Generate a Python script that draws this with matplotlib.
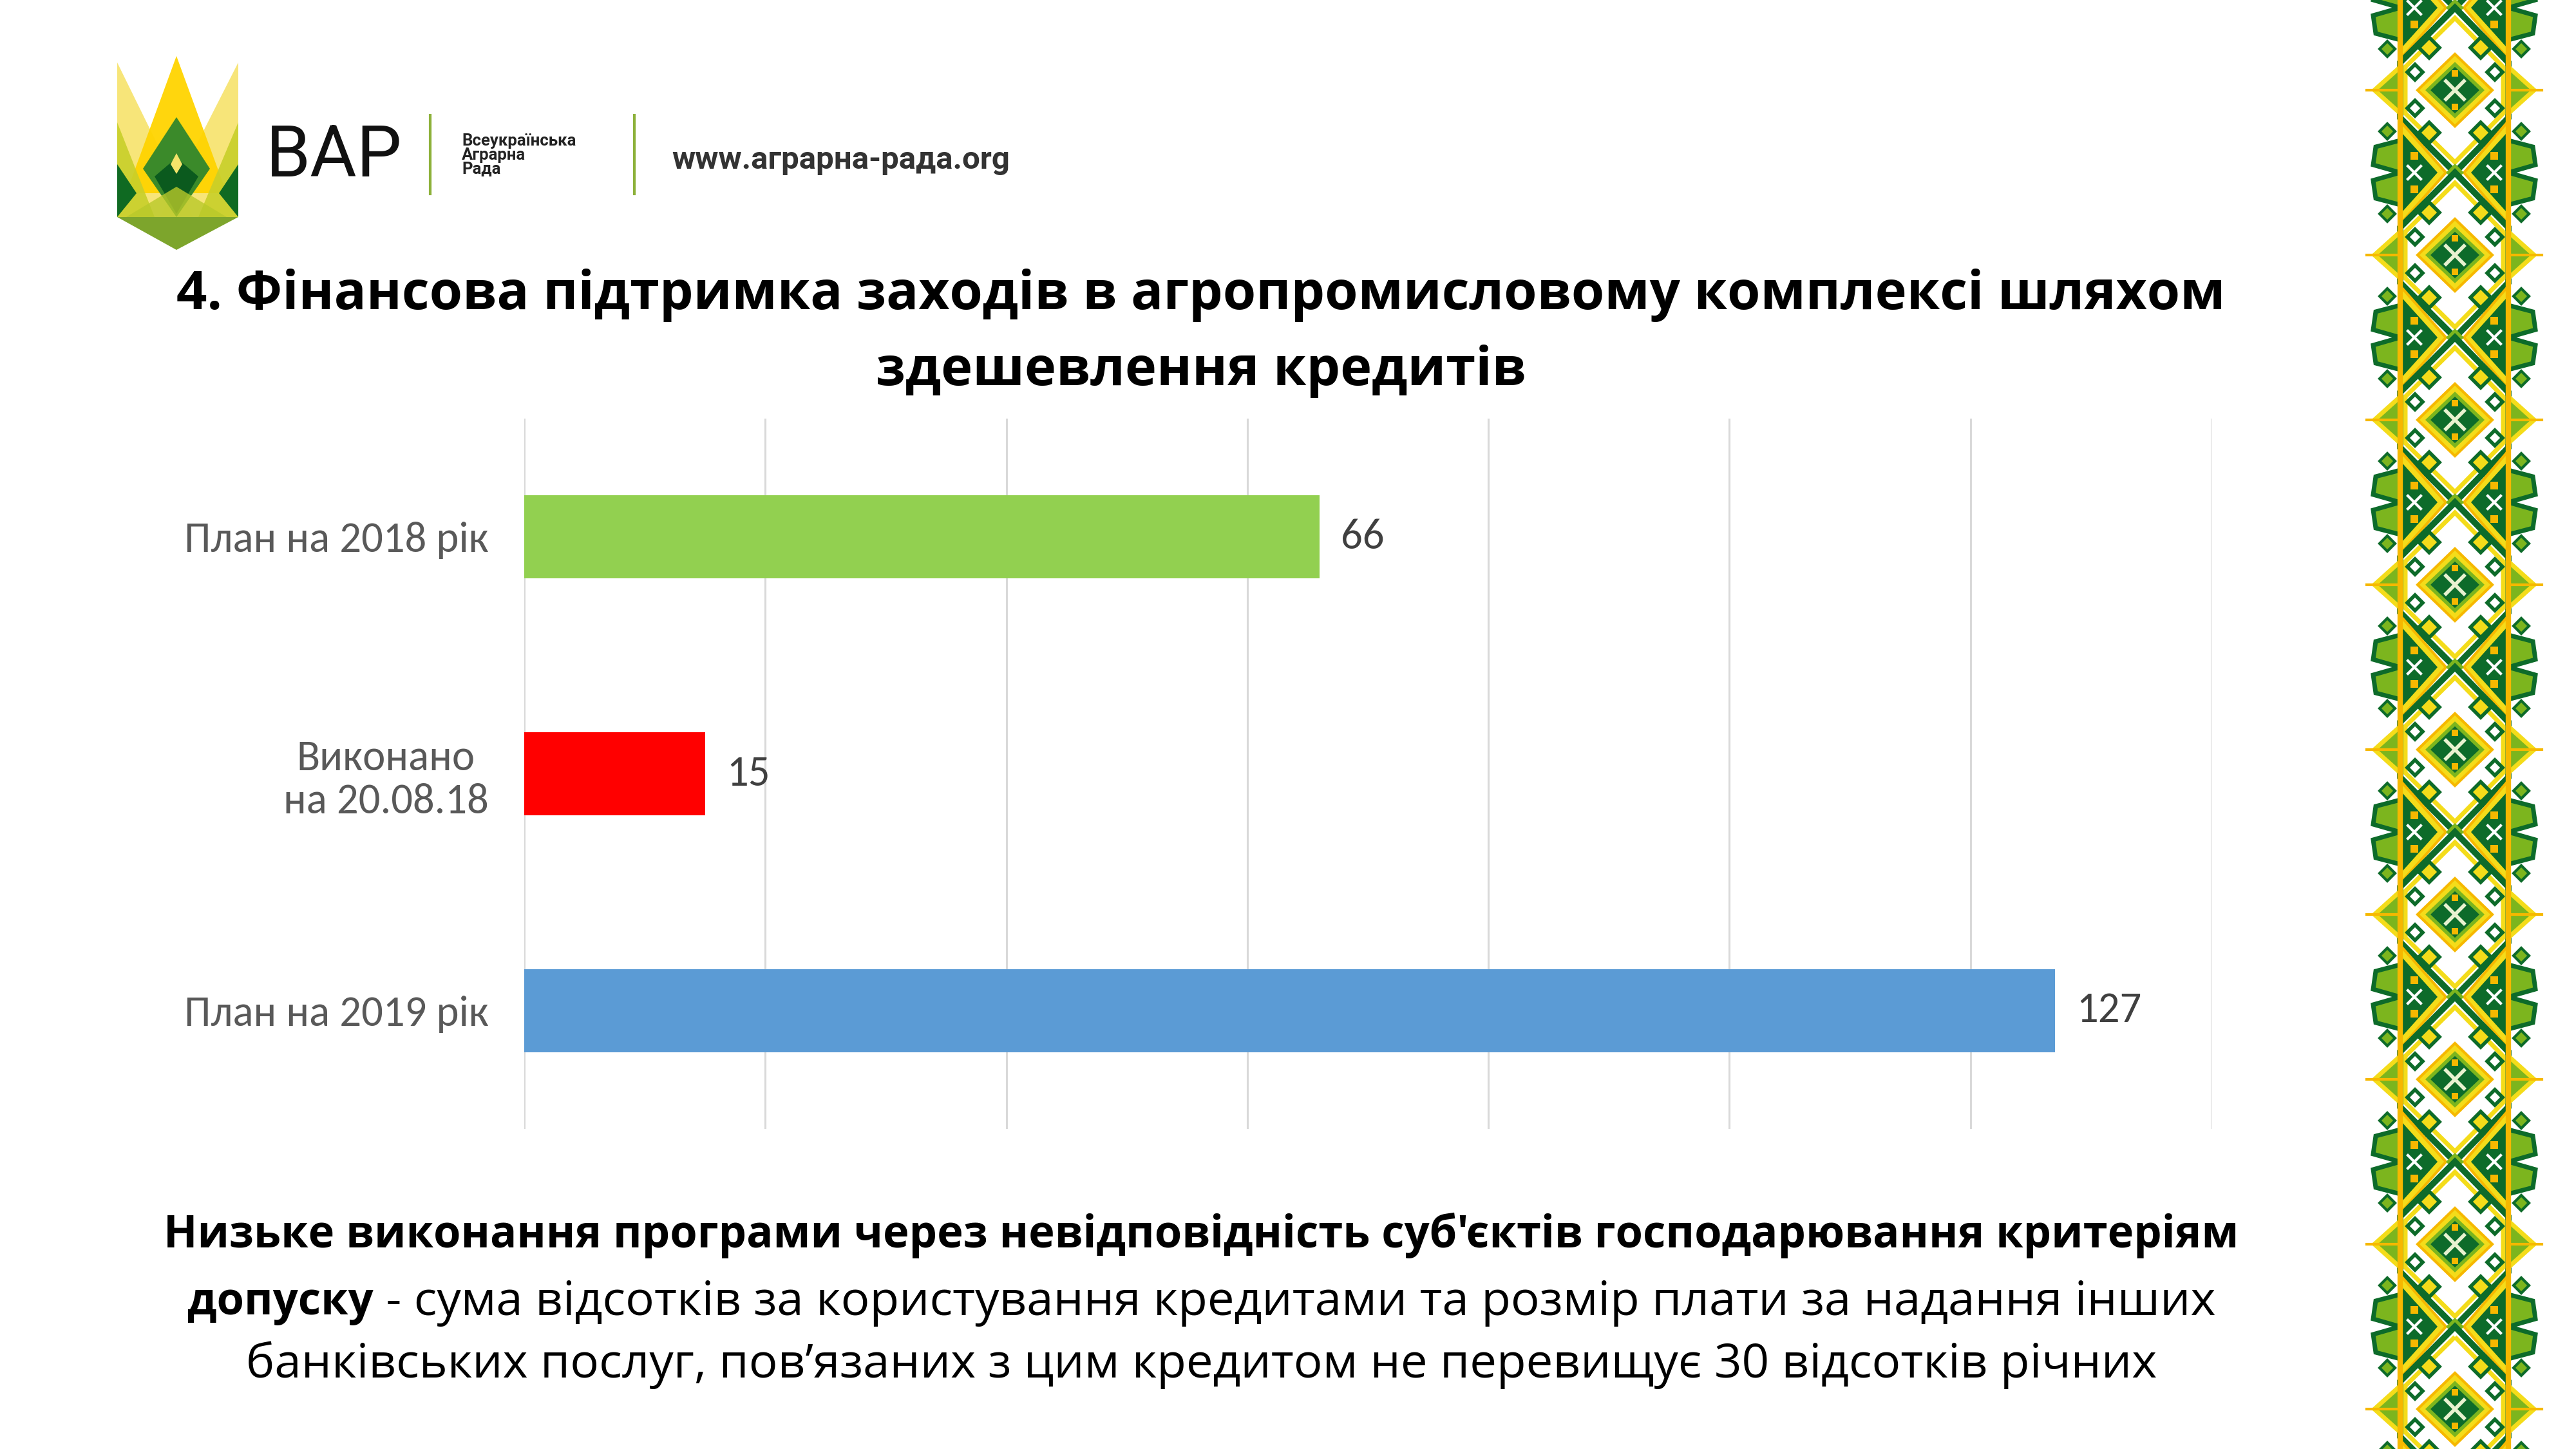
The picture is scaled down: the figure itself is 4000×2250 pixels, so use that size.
import numpy as np
import matplotlib
matplotlib.use("Agg")
import matplotlib.pyplot as plt
from matplotlib.patches import Polygon, Rectangle

# data
categories = ["План на 2018 рік", "Виконано\nна 20.08.18", "План на 2019 рік"]
values = [66, 15, 127]
bar_colors = ["#92d050", "#ff0000", "#5b9bd5"]
x_ticks = [0, 20, 40, 60, 80, 100, 120, 140]

title_lines = ["4. Фінансова підтримка заходів в агропромисловому комплексі шляхом",
               "здешевлення кредитів"]
note_line1 = "Низьке виконання програми через невідповідність суб'єктів господарювання критеріям"
note_line2_bold = "допуску"
note_line2_rest = " - сума відсотків за користування кредитами та розмір плати за надання інших"
note_line3 = "банківських послуг, пов’язаних з цим кредитом не перевищує 30 відсотків річних"
logo_name = "ВАР"
logo_small = "Всеукраїнська\nАграрна\nРада"
logo_url = "www.аграрна-рада.org"

W, H = 4000, 2250
FONT = "Open Sans"
LABEL_FONT = "Carlito"

fig = plt.figure(figsize=(40, 22.5), dpi=100)
fig.patch.set_facecolor("white")
r = fig.canvas.get_renderer()


def fx(x):
    return x / W


def fy(y):
    return 1 - y / H


def fit(t, width_px):
    # scale the font so the text spans width_px
    w = t.get_window_extent(r).width
    t.set_fontsize(t.get_fontsize() * width_px / w)
    return t.get_fontsize()


# chart
ax = fig.add_axes([fx(814), fy(1753), fx(3434) - fx(814), fy(650) - fy(1753)])
ypos = np.arange(len(categories))
ax.barh(ypos, values, height=0.35, color=bar_colors, zorder=3)
ax.set_xlim(0, 140)
ax.set_ylim(2.5, -0.5)
ax.set_xticks(x_ticks)
ax.set_xticklabels([])
ax.grid(axis="x", color="#d9d9d9", linewidth=2.2, zorder=0)
ax.set_yticks(ypos)
ax.set_yticklabels(categories, fontsize=48, color="#595959", family=LABEL_FONT,
                   multialignment="center", linespacing=1.2)
ax.tick_params(length=0, pad=40)
for s in ax.spines.values():
    s.set_visible(False)
for i, v in enumerate(values):
    ax.annotate(str(v), (v, i), xytext=(24, 0), textcoords="offset points",
                va="center", ha="left", fontsize=48, color="#404040", family=LABEL_FONT)

# title
t1 = fig.text(fx(1865), fy(459), title_lines[0], ha="center", va="center",
              fontsize=70, weight="bold", family=FONT)
size = fit(t1, 3184)
fig.text(fx(1865), fy(577), title_lines[1], ha="center", va="center",
         fontsize=size, weight="bold", family=FONT)

# bottom note
n1 = fig.text(fx(1865), fy(1918), note_line1, ha="center", va="center",
              fontsize=60, weight="bold", family=FONT)
fit(n1, 3220)
n3 = fig.text(fx(1866), fy(2120), note_line3, ha="center", va="center",
              fontsize=60, family=FONT)
nsize = fit(n3, 2967)
tb = fig.text(0, fy(2023), note_line2_bold, ha="left", va="center",
              fontsize=n1.get_fontsize(), weight="bold", family=FONT)
tr = fig.text(0, fy(2023), note_line2_rest, ha="left", va="center",
              fontsize=nsize, family=FONT)
wb = tb.get_window_extent(r).width
wr = tr.get_window_extent(r).width
x0 = 1866 - (wb + wr) / 2
tb.set_x(fx(x0))
tr.set_x(fx(x0 + wb))

# overlay for logo and ornament (pixel coordinates)
ov = fig.add_axes([0, 0, 1, 1], zorder=-1)
ov.set_xlim(0, W)
ov.set_ylim(H, 0)
ov.axis("off")

# trident logo
logo_polys = [
    ([(182, 97), (182, 337), (300, 337)], "#f7e36b", 0.9),
    ([(370, 97), (370, 337), (248, 337)], "#f7e36b", 0.9),
    ([(274, 87), (196, 300), (352, 300)], "#ffd400", 0.95),
    ([(182, 190), (182, 337), (240, 337)], "#c8cf2a", 0.9),
    ([(370, 190), (370, 337), (308, 337)], "#c8cf2a", 0.9),
    ([(182, 255), (182, 337), (212, 300)], "#0f6a22", 1.0),
    ([(370, 255), (370, 337), (340, 300)], "#0f6a22", 1.0),
    ([(274, 182), (222, 262), (274, 337), (326, 262)], "#3b8a2a", 1.0),
    ([(274, 245), (240, 274), (274, 332), (308, 274)], "#0b5a1e", 1.0),
    ([(274, 238), (265, 255), (274, 270), (283, 255)], "#f3e36a", 1.0),
    ([(182, 337), (370, 337), (274, 388)], "#7da52c", 1.0),
    ([(196, 337), (274, 290), (352, 337)], "#b9c92a", 0.8),
]
for pts, c, a in logo_polys:
    ov.add_patch(Polygon(pts, closed=True, facecolor=c, edgecolor="none", alpha=a))

fig.text(fx(413), fy(243), logo_name, ha="left", va="center", fontsize=80,
         color="#111111", family="Roboto")
ov.plot([668, 668], [179, 301], color="#8db13a", linewidth=3)
ov.plot([985, 985], [179, 301], color="#8db13a", linewidth=3)
fig.text(fx(717), fy(241), logo_small, ha="left", va="center", fontsize=18.5,
         color="#222222", family="Roboto", weight="bold", linespacing=0.9)
fig.text(fx(1043), fy(249), logo_url, ha="left", va="center", fontsize=35.5,
         color="#333333", family="Roboto", weight="bold")

# ornament on the right
gold = "#f6b800"
yel = "#f4dc1a"
dgreen = "#0d6b2a"
lgreen = "#7cb51e"
cx, xl, xr = 3812, 3727, 3895
for k in range(-1, 10):
    yc = 140 + 256 * k
    yx = yc + 128
    # lattice around the medallion (45 degree zigzag)
    ov.add_patch(Polygon([(cx, yc - 128), (xl, yc - 43), (xl, yc + 43), (cx, yc + 128),
                          (xr, yc + 43), (xr, yc - 43)],
                         closed=True, facecolor="white", edgecolor=dgreen, linewidth=7))
    ov.add_patch(Polygon([(cx, yc - 112), (xl + 8, yc - 36), (xl + 8, yc + 36), (cx, yc + 112),
                          (xr - 8, yc + 36), (xr - 8, yc - 36)],
                         closed=True, facecolor="none", edgecolor=yel, linewidth=5))
    # scrolls
    for sx in (-1, 1):
        for sy in (-1, 1):
            px, py = cx + sx * 40, yc + sy * 66
            ov.add_patch(Polygon([(px, py - 16), (px - 16, py), (px, py + 16), (px + 16, py)],
                                 closed=True, facecolor=yel, edgecolor=dgreen, linewidth=4))
            px2, py2 = cx + sx * 62, yc + sy * 28
            ov.add_patch(Polygon([(px2, py2 - 12), (px2 - 12, py2), (px2, py2 + 12), (px2 + 12, py2)],
                                 closed=True, facecolor="white", edgecolor=dgreen, linewidth=4))
    # medallion
    ov.add_patch(Polygon([(cx, yc - 56), (cx - 58, yc), (cx, yc + 56), (cx + 58, yc)],
                         closed=True, facecolor=yel, edgecolor=gold, linewidth=3))
    ov.add_patch(Polygon([(cx, yc - 40), (cx - 42, yc), (cx, yc + 40), (cx + 42, yc)],
                         closed=True, facecolor=dgreen, edgecolor=lgreen, linewidth=4))
    ov.plot([cx - 14, cx + 14], [yc - 14, yc + 14], color="#e8f2d0", linewidth=4)
    ov.plot([cx - 14, cx + 14], [yc + 14, yc - 14], color="#e8f2d0", linewidth=4)
    for dx, dy in [(0, -26), (0, 26)]:
        ov.add_patch(Rectangle((cx + dx - 5, yc + dy - 5), 10, 10, facecolor=gold,
                               edgecolor="none"))
    # side triangles at the crossing rows
    for side, edge in ((-1, xl), (1, xr)):
        ov.add_patch(Polygon([(edge, yx - 80), (edge, yx + 80), (cx + side * 14, yx)],
                             closed=True, facecolor=yel, edgecolor=gold, linewidth=3))
        ov.add_patch(Polygon([(edge - side * 4, yx - 60), (edge - side * 4, yx + 60),
                              (edge - side * 58, yx)],
                             closed=True, facecolor=dgreen, edgecolor="none"))
        mx = edge - side * 22
        ov.plot([mx - 10, mx + 10], [yx - 10, yx + 10], color="white", linewidth=3)
        ov.plot([mx - 10, mx + 10], [yx + 10, yx - 10], color="white", linewidth=3)
        for dy in (-26, 26):
            ov.add_patch(Rectangle((mx - 6, yx + dy - 6), 12, 12, facecolor=gold,
                                   edgecolor="none"))
    ov.add_patch(Polygon([(cx, yx - 14), (cx - 14, yx), (cx, yx + 14), (cx + 14, yx)],
                         closed=True, facecolor=lgreen, edgecolor="none"))
    # outside motifs
    for side, edge in ((-1, xl), (1, xr)):
        tip = edge + side * 40
        ov.add_patch(Polygon([(edge, yc - 36), (edge, yc + 36), (tip, yc)], closed=True,
                             facecolor=lgreen, edgecolor=yel, linewidth=5))
        ov.plot([edge, tip + side * 12], [yc, yc], color=gold, linewidth=3)
        lx = edge + side * 22
        ov.add_patch(Polygon([(edge, yx - 50), (lx + side * 16, yx - 40), (lx + side * 20, yx - 12),
                              (edge, yx), (lx + side * 20, yx + 12), (lx + side * 16, yx + 40),
                              (edge, yx + 50)], closed=True,
                             facecolor=lgreen, edgecolor=dgreen, linewidth=5))
        for dy in (-64, 64):
            px, py = edge + side * 20, yc + dy
            ov.add_patch(Polygon([(px, py - 12), (px - 12, py), (px, py + 12), (px + 12, py)],
                                 closed=True, facecolor=lgreen, edgecolor=dgreen, linewidth=3))
ov.plot([xl, xl], [0, H], color=gold, linewidth=6)
ov.plot([xr, xr], [0, H], color=gold, linewidth=6)

fig.savefig("out.png", dpi=100, facecolor="white")
